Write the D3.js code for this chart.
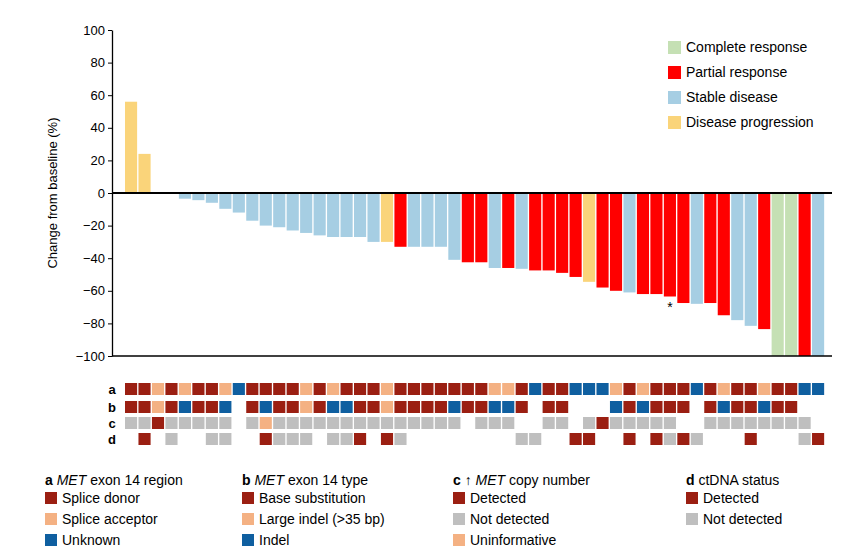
<!DOCTYPE html>
<html><head><meta charset="utf-8">
<script src="https://cdn.jsdelivr.net/npm/d3@7"></script>
<style>body{margin:0;background:#fff}svg{font-family:"Liberation Sans",Arial,sans-serif}</style>
</head><body><svg id="c" width="855" height="556"></svg>
<script>
const values = [56,24,null,null,-3.5,-4.4,-6,-9.7,-12,-17,-20,-21,-23,-24.5,-26,-27,-27,-27,-30,-30,-33,-33,-33,-33,-41,-42.5,-42.5,-46,-46,-46.5,-47.5,-47.5,-49,-51.5,-54.5,-58,-60,-61,-62,-62,-63.5,-67.5,-68,-67.5,-75,-78,-81.5,-83.5,-100,-100,-100,-100];
const response = ["PD","PD",null,null,"SD","SD","SD","SD","SD","SD","SD","SD","SD","SD","SD","SD","SD","SD","SD","PD","PR","SD","SD","SD","SD","PR","PR","SD","PR","SD","PR","PR","PR","PR","PD","PR","PR","SD","PR","PR","PR","PR","SD","PR","PR","SD","SD","PR","CR","CR","PR","SD"];
const rowA = "DDADADDAUDDDDADADDDADDDDDDDAADUDDUUUADADDDUDADDADDUU";
const rowB = "DDADUDDU-DUDDADUUDDADDDDUDDUUD-DD---UDUDDD-DUDDUDD--";
const rowC = "GGDGGGGG-GAGGGGGGGGGGGGGG-GGG--GG-GDGGGGG--GGGGGGGG-";
const rowD = "-D-G--GG--DGGG-GGD-DG--------GG--DD--D-DGDG---D---GD";
const yTicks = [100,80,60,40,20,0,-20,-40,-60,-80,-100];
const respLegend = [["CR","Complete response"],["PR","Partial response"],["SD","Stable disease"],["PD","Disease progression"]];
const respColor = {CR:"#C5E0B4",PR:"#FF0000",SD:"#A6CEE3",PD:"#FAD47A"};
const cellColor = {D:"#9B1F12",A:"#F4B183",U:"#0F5FA0",G:"#BFBFBF"};
const legendCols = [
 {key:"a",title:"MET",rest:" exon 14 region",pre:"",items:[["D","Splice donor"],["A","Splice acceptor"],["U","Unknown"]]},
 {key:"b",title:"MET",rest:" exon 14 type",pre:"",items:[["D","Base substitution"],["A","Large indel (>35 bp)"],["U","Indel"]]},
 {key:"c",title:"MET",rest:" copy number",pre:"\u2191 ",items:[["D","Detected"],["G","Not detected"],["A","Uninformative"]]},
 {key:"d",title:"",rest:"ctDNA status",pre:"",items:[["D","Detected"],["G","Not detected"]]}
];
const legX = [45,242,453,686];

const svg = d3.select("#c");
const idx = d3.range(values.length);
const x = d3.scaleBand().domain(idx).range([123.65,825.5]).paddingInner(0.1).paddingOuter(0.1);
const y = d3.scaleLinear().domain([-100,100]).range([356,30]);

svg.append("g").selectAll("rect").data(idx.filter(i=>values[i]!=null)).join("rect")
 .attr("x",i=>x(i)).attr("width",x.bandwidth())
 .attr("y",i=>y(Math.max(0,values[i]))).attr("height",i=>Math.abs(y(values[i])-y(0)))
 .attr("fill",i=>respColor[response[i]]);

const ax = svg.append("g").attr("transform","translate(112,0)")
 .call(d3.axisLeft(y).tickValues(yTicks).tickSize(4).tickSizeOuter(0));
ax.selectAll("text").attr("font-size",13).attr("fill","#000");
ax.select(".domain").attr("stroke","#000").attr("stroke-width",1.3);
svg.append("line").attr("x1",112).attr("x2",832).attr("y1",y(0)).attr("y2",y(0)).attr("stroke","#000").attr("stroke-width",2);
svg.append("line").attr("x1",112).attr("x2",832).attr("y1",y(-100)).attr("y2",y(-100)).attr("stroke","#000").attr("stroke-width",1.3);
svg.append("text").attr("transform","translate(57,193) rotate(-90)").attr("text-anchor","middle").attr("font-size",13).text("Change from baseline (%)");
svg.append("text").attr("x",x(40)+x.bandwidth()/2).attr("y",y(values[40])+15).attr("text-anchor","middle").attr("font-size",14).text("*");

const lg = svg.append("g").selectAll("g").data(respLegend).join("g").attr("transform",(d,i)=>`translate(668,${41+i*25})`);
lg.append("rect").attr("width",13).attr("height",13).attr("fill",d=>respColor[d[0]]);
lg.append("text").attr("x",18).attr("y",11).attr("font-size",14).text(d=>d[1]);

const rows = [["a",rowA,389],["b",rowB,407],["c",rowC,423],["d",rowD,439]];
rows.forEach(([lab,str,yy])=>{
 svg.append("text").attr("x",112).attr("y",yy+5).attr("text-anchor","middle").attr("font-size",13).attr("font-weight","bold").text(lab);
 svg.append("g").selectAll("rect").data(idx.filter(i=>str[i]!=="-")).join("rect")
  .attr("x",i=>x(i)).attr("y",yy-6).attr("width",x.bandwidth()).attr("height",12).attr("fill",i=>cellColor[str[i]]);
});

legendCols.forEach((c,ci)=>{
 const g = svg.append("g").attr("transform",`translate(${legX[ci]},0)`);
 const t = g.append("text").attr("y",485).attr("font-size",14);
 t.append("tspan").attr("font-weight","bold").text(c.key+" ");
 if(c.pre) t.append("tspan").text(c.pre);
 if(c.title) t.append("tspan").attr("font-style","italic").text(c.title);
 t.append("tspan").text(c.rest);
 c.items.forEach((it,j)=>{
  g.append("rect").attr("y",492+j*21).attr("width",12).attr("height",12).attr("fill",cellColor[it[0]]);
  g.append("text").attr("x",17).attr("y",503+j*21).attr("font-size",14).text(it[1]);
 });
});
</script></body></html>
